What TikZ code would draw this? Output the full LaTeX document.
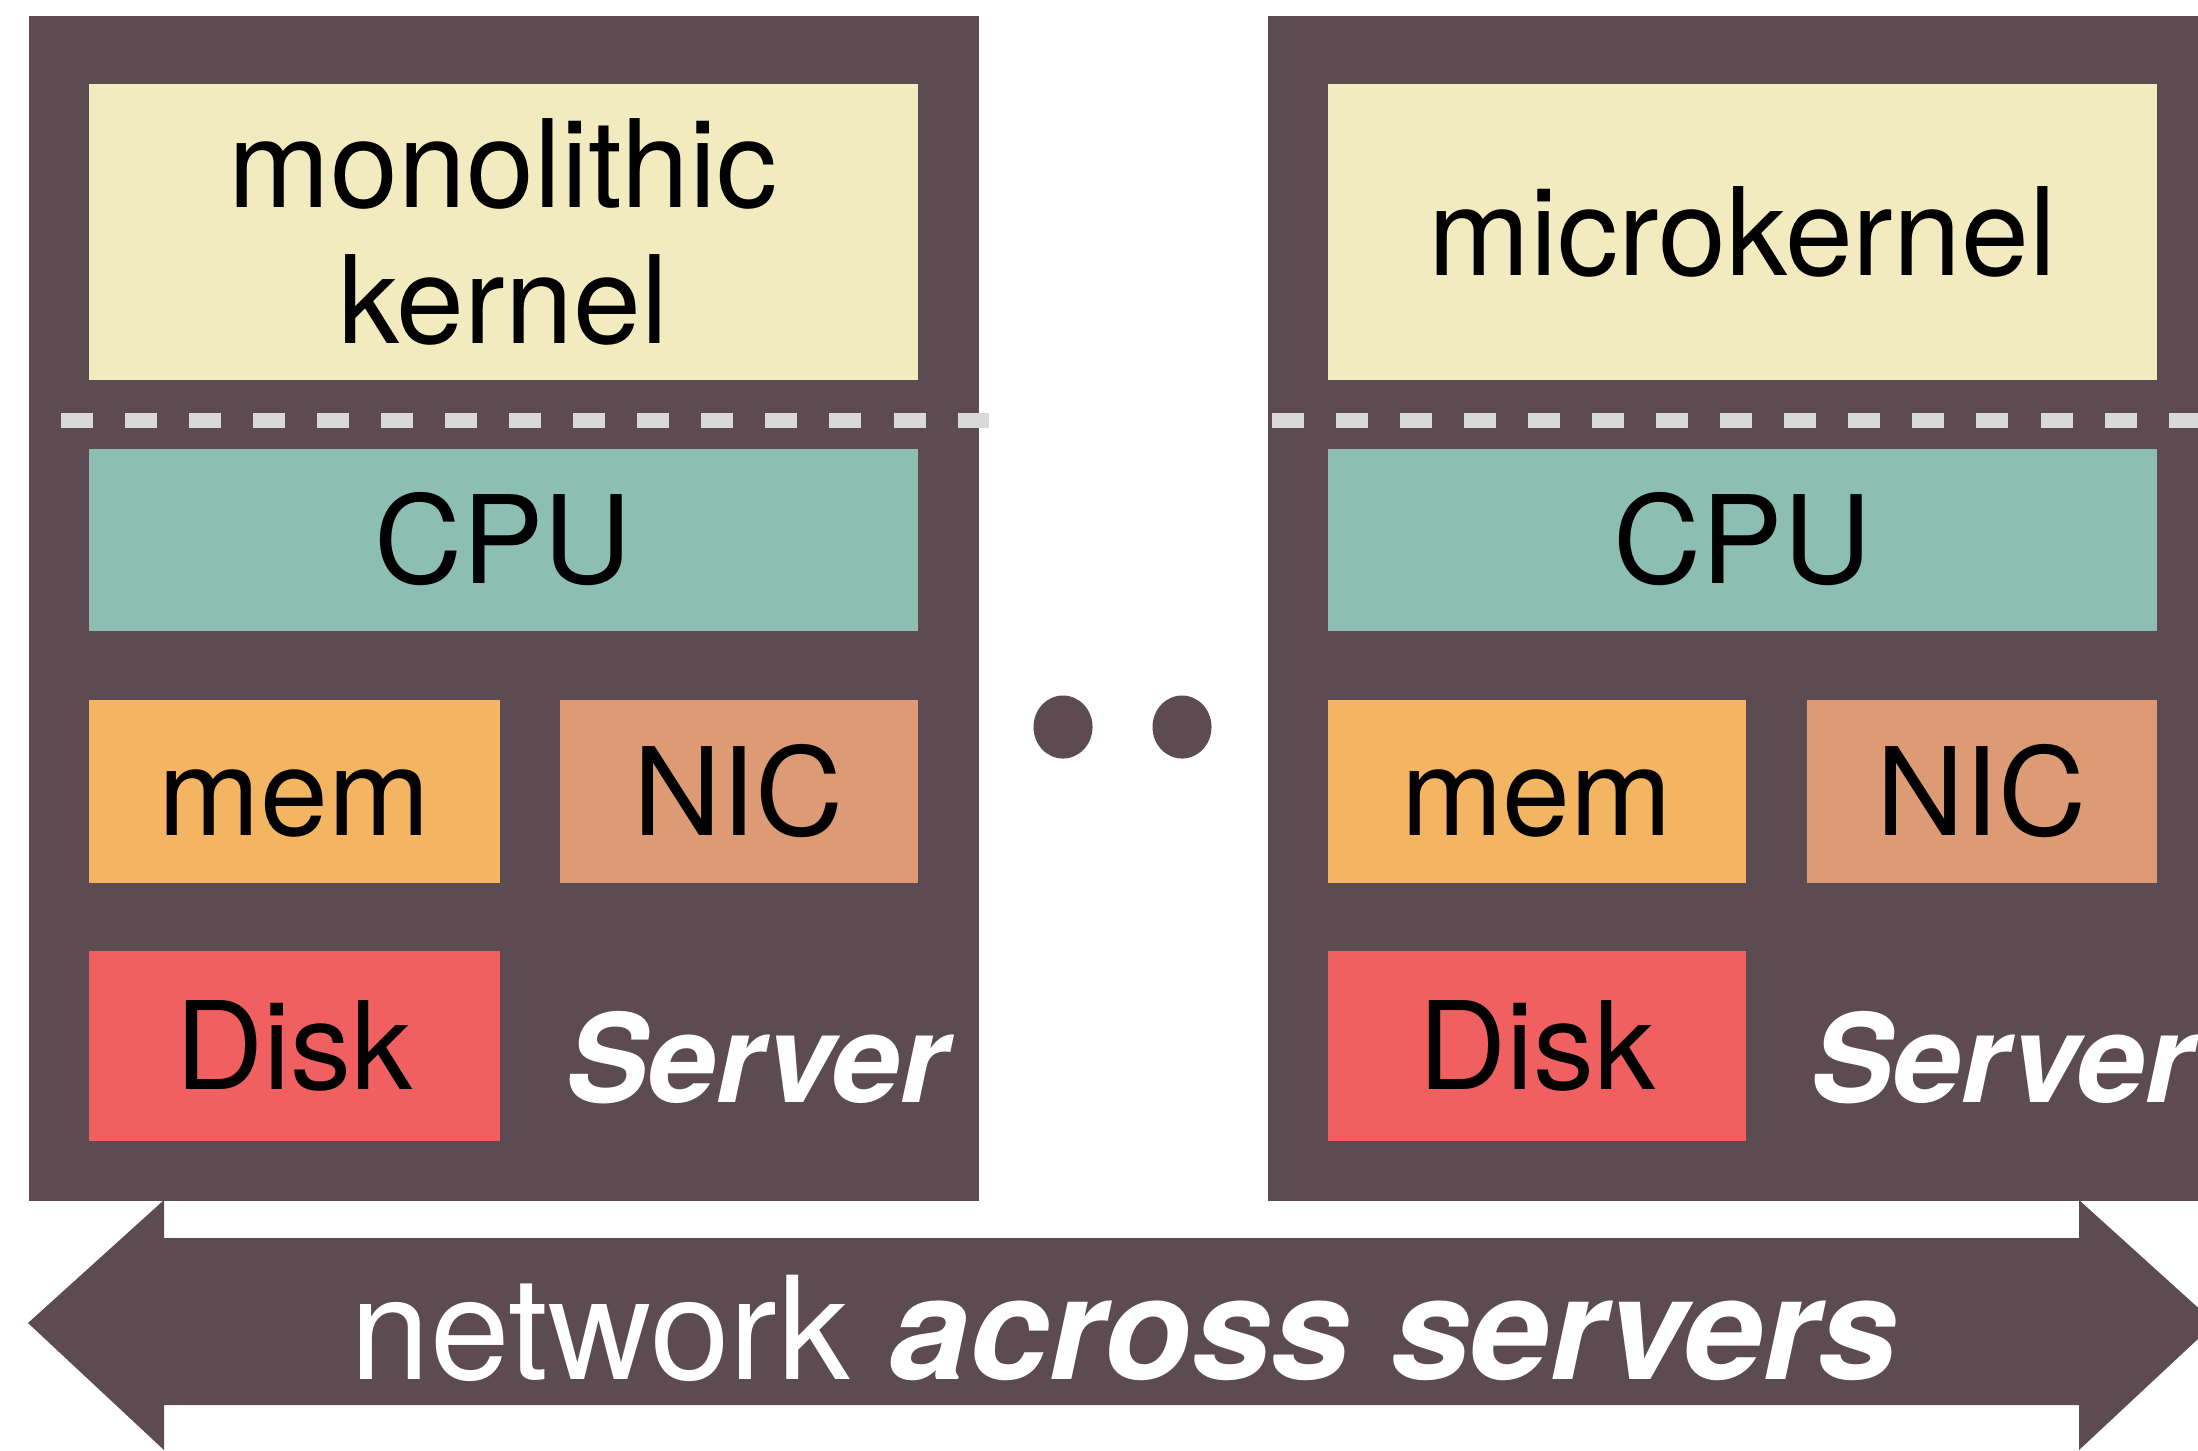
\documentclass[tikz,border=0pt]{standalone}
\usepackage{fontspec}
\setmainfont{TeX Gyre Heros}
\usetikzlibrary{shapes.geometric}

\definecolor{srvgray}{HTML}{5C4B51}
\definecolor{kerncol}{HTML}{F2EBBF}
\definecolor{cpucol}{HTML}{8CBEB2}
\definecolor{memcol}{HTML}{F3B562}
\definecolor{niccol}{HTML}{DC9B74}
\definecolor{diskcol}{HTML}{F06060}
\definecolor{dashcol}{HTML}{D9D9D9}

\begin{document}
\begin{tikzpicture}[x=0.01cm,y=-0.01cm,
server/.style={rectangle,fill=srvgray,anchor=north west,minimum width=9.5cm,minimum height=11.85cm,inner sep=0pt},
kbox/.style={rectangle,anchor=north west,inner sep=0pt,align=center,font=\fontsize{34.7}{38.7}\selectfont},
hwbox/.style={kbox,text height=0.88cm,text depth=0pt},
srvlabel/.style={anchor=base west,text=white,font=\fontsize{35}{40}\selectfont\bfseries\itshape},
layerline/.style={draw=dashcol,line width=0.15cm,dash pattern=on 0.32cm off 0.32cm},
dot/.style={ellipse,fill=srvgray,minimum width=0.59cm,minimum height=0.63cm,inner sep=0pt}]
	\clip (0,0) rectangle (2198,1450);
	\node[server] at (28,15) (s1) {};
	\node[server] at (1267,15) (s2) {};

	% first server
	\node[kbox,fill=kerncol,minimum width=8.285cm,minimum height=2.965cm] at (88,83) (k1) {monolithic\\kernel};
	\node[hwbox,fill=cpucol,minimum width=8.285cm,minimum height=1.82cm] at (88,448) (c1) {CPU};
	\node[hwbox,fill=memcol,minimum width=4.11cm,minimum height=1.83cm] at (88,699) (m1) {mem};
	\node[hwbox,fill=niccol,minimum width=3.58cm,minimum height=1.83cm] at (559,699) (n1) {NIC};
	\node[hwbox,fill=diskcol,minimum width=4.11cm,minimum height=1.9cm] at (88,950) (d1) {Disk};
	\node[srvlabel] at (553,1102) (l1) {Server};
	\draw[layerline] (61,420) -- (989,420);

	% second server
	\node[kbox,fill=kerncol,minimum width=8.29cm,minimum height=2.965cm] at (1327,83) (k2) {microkernel};
	\node[hwbox,fill=cpucol,minimum width=8.29cm,minimum height=1.82cm] at (1327,448) (c2) {CPU};
	\node[hwbox,fill=memcol,minimum width=4.18cm,minimum height=1.83cm] at (1327,699) (m2) {mem};
	\node[hwbox,fill=niccol,minimum width=3.5cm,minimum height=1.83cm] at (1806,699) (n2) {NIC};
	\node[hwbox,fill=diskcol,minimum width=4.18cm,minimum height=1.9cm] at (1327,950) (d2) {Disk};
	\node[srvlabel] at (1798,1102) (l2) {Server};
	\draw[layerline] (1272,420) -- (2230,420);

	\node[dot] at (1063,727) (dot1) {};
	\node[dot] at (1182,727) (dot2) {};

	% network arrow
	\fill[srvgray] (28,1323) -- (164,1200) -- (164,1238) -- (2079,1238) -- (2079,1200) -- (2215,1323)
		-- (2079,1450) -- (2079,1405) -- (164,1405) -- (164,1450) -- cycle;
	\node[anchor=base,text=white,font=\fontsize{40.7}{46}\selectfont] at (1124,1379) (net) {network \textbf{\textit{across servers}}};
\end{tikzpicture}
\end{document}
